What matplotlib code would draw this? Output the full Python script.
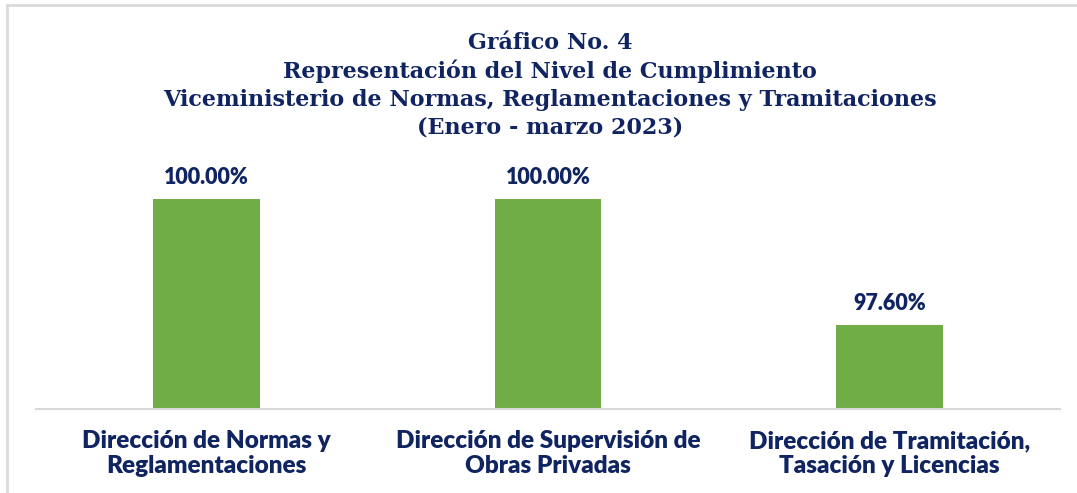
import numpy as np
import matplotlib.pyplot as plt
from matplotlib.patches import Rectangle

categorias = ['Dirección de Normas y\nReglamentaciones',
              'Dirección de Supervisión de\nObras Privadas',
              'Dirección de Tramitación,\nTasación y Licencias']
valores = [100.00, 100.00, 97.60]
etiquetas = ['100.00%', '100.00%', '97.60%']

titulo = ('Gráfico No. 4\n'
          'Representación del Nivel de Cumplimiento\n'
          'Viceministerio de Normas, Reglamentaciones y Tramitaciones\n'
          '(Enero - marzo 2023)')

azul = '#0f2461'
verde = '#70ad47'
W, H = 1077, 493

fig = plt.figure(figsize=(W/100, H/100), dpi=100)

# marco gris claro (se sale por la derecha y abajo)
fig.patches.append(Rectangle((7/W, -0.5), 1.2, 1.5 - 5/H, transform=fig.transFigure,
                             fill=False, edgecolor='#d9d9d9', linewidth=2))

ax = fig.add_axes([36/W, 1 - 409/H, 1024/W, (409-150)/H])
x = np.arange(len(valores))
ax.bar(x, valores, width=0.313, color=verde)
ax.set_xlim(-0.5, 2.5)
ax.set_ylim(96, 96 + 259/52.5)

for s in ['top', 'right', 'left']:
    ax.spines[s].set_visible(False)
ax.spines['bottom'].set_color('#d9d9d9')
ax.spines['bottom'].set_linewidth(1.5)
ax.set_yticks([])
ax.set_xticks(x)
ax.set_xticklabels(categorias, fontsize=17.5, fontweight='heavy', color=azul,
                   family='Lato', linespacing=1.18)
ax.tick_params(axis='x', length=0, pad=15)

for xi, v, t in zip(x, valores, etiquetas):
    ax.annotate(t, (xi, v), xytext=(0, 8), textcoords='offset points',
                ha='center', va='bottom', fontsize=15.5, fontweight='heavy',
                color=azul, family='Lato')

fig.text(550/W, 1 - 85/H, titulo, ha='center', va='center', fontsize=16,
         fontweight='bold', color=azul, family='DejaVu Serif', linespacing=1.33)

fig.savefig('out.png', dpi=100)
